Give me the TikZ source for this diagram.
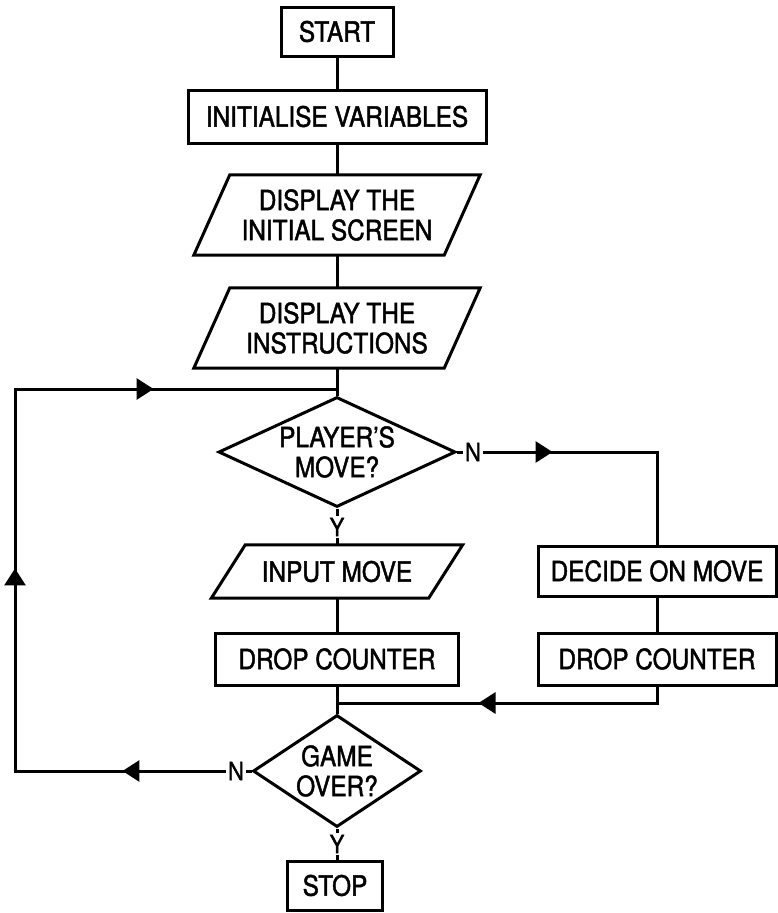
\documentclass[tikz,border=0pt]{standalone}
\usepackage{fontspec}
\setmainfont{TeX Gyre Heros}[FakeStretch=0.87,FakeBold=1.6]
\usetikzlibrary{shapes.geometric,arrows.meta,decorations.markings}

\newcommand\boxfont{\fontsize{28bp}{30bp}\selectfont}
\newcommand\labelfont{\fontsize{25bp}{27bp}\selectfont}
\newcommand\flowtip{\arrow{Triangle[length=17bp,width=21bp]}}
% outline of an input/output box: the node's rectangle, top edge pushed right, bottom edge left
\newcommand\slantoutline[2]{%
  \draw[flow] ([xshift=#2]#1.north west) -- ([xshift=#2]#1.north east)
    -- ([xshift=-#2]#1.south east) -- ([xshift=-#2]#1.south west) -- cycle;}

\tikzset{
  flow/.style={line width=3bp, line join=miter},
  boxnode/.style={draw, flow, rectangle, inner sep=0pt, font=\boxfont, align=center},
  slantnode/.style={rectangle, inner sep=0pt, font=\boxfont, align=center},
  decision/.style={draw, flow, diamond, inner sep=0pt, font=\boxfont, align=center},
  branchlabel/.style={inner sep=1.5bp, font=\labelfont},
  link/.style={flow},
  tipat/.style={postaction={decorate},
    decoration={markings, mark=at position #1 with {\flowtip}}},
}

\begin{document}
\begin{tikzpicture}[x=1bp,y=-1bp]
\useasboundingbox (0,0) rectangle (778,913);

% main column
\node[boxnode, minimum width=112bp, minimum height=49bp] (start) at (337,31.5) {START};
\node[boxnode, minimum width=298bp, minimum height=53bp] (init) at (337,116.5) {INITIALISE VARIABLES};
\node[slantnode, minimum width=250bp, minimum height=80bp] (screen) at (337,215) {DISPLAY THE\\INITIAL SCREEN};
\slantoutline{screen}{18bp}
\node[slantnode, minimum width=250bp, minimum height=80bp] (instr) at (337,328) {DISPLAY THE\\INSTRUCTIONS};
\slantoutline{instr}{18bp}
\node[decision, minimum width=237bp, minimum height=110bp, aspect=2.15] (player) at (337,452) {PLAYER’S\\MOVE?};
\node[branchlabel] (pY) at (337,527) {Y};
\node[branchlabel] (pN) at (473,452) {N};
\node[slantnode, minimum width=217bp, minimum height=53bp] (input) at (337,571.5) {INPUT MOVE};
\slantoutline{input}{17bp}
\node[boxnode, minimum width=243bp, minimum height=52bp] (dropA) at (337,659) {DROP COUNTER};

% computer's branch
\node[boxnode, minimum width=238bp, minimum height=50bp] (decide) at (657,571) {DECIDE ON MOVE};
\node[boxnode, minimum width=238bp, minimum height=52bp] (dropB) at (657,659) {DROP COUNTER};

% end test
\node[decision, minimum width=168bp, minimum height=112bp, aspect=1.5] (over) at (337,771) {GAME\\OVER?};
\node[branchlabel] (oN) at (236,771) {N};
\node[branchlabel] (oY) at (337,844) {Y};
\node[boxnode, minimum width=95bp, minimum height=49bp] (stop) at (335,885.5) {STOP};

% corner and junction points
\coordinate (rtop) at (657,452);
\coordinate (rbot) at (657,703);
\coordinate (merge) at (337,703);
\coordinate (lbot) at (15,771);
\coordinate (ltop) at (15,389);
\coordinate (loopin) at (337,389);

% straight-down flow
\draw[link] (start.south) -- (init.north);
\draw[link] (init.south) -- (screen.north);
\draw[link] (screen.south) -- (instr.north);
\draw[link] (instr.south) -- (player.north);
\draw[link] (player.south) -- (pY.north);
\draw[link] (pY.south) -- (input.north);
\draw[link] (input.south) -- (dropA.north);
\draw[link] (dropA.south) -- (over.north);
\draw[link] (over.south) -- (oY.north);
\draw[link] (oY.south) -- (oY.south |- stop.north);

% N from the player's test, round through the computer's move
\draw[link] (player.east) -- (pN.west);
\draw[link, tipat=70bp] (pN.east) -- (rtop) -- (decide.north);
\draw[link] (decide.south) -- (dropB.north);
\draw[link, tipat=195bp] (dropB.south) -- (rbot) -- (merge);

% N from the end test, back to the player's test
\draw[link] (over.west) -- (oN.east);
\draw[link, postaction={decorate}, decoration={markings,
    mark=at position 104bp with {\flowtip},
    mark=at position 414bp with {\flowtip},
    mark=at position 732bp with {\flowtip}}]
  (oN.west) -- (lbot) -- (ltop) -- (loopin);
\end{tikzpicture}
\end{document}
